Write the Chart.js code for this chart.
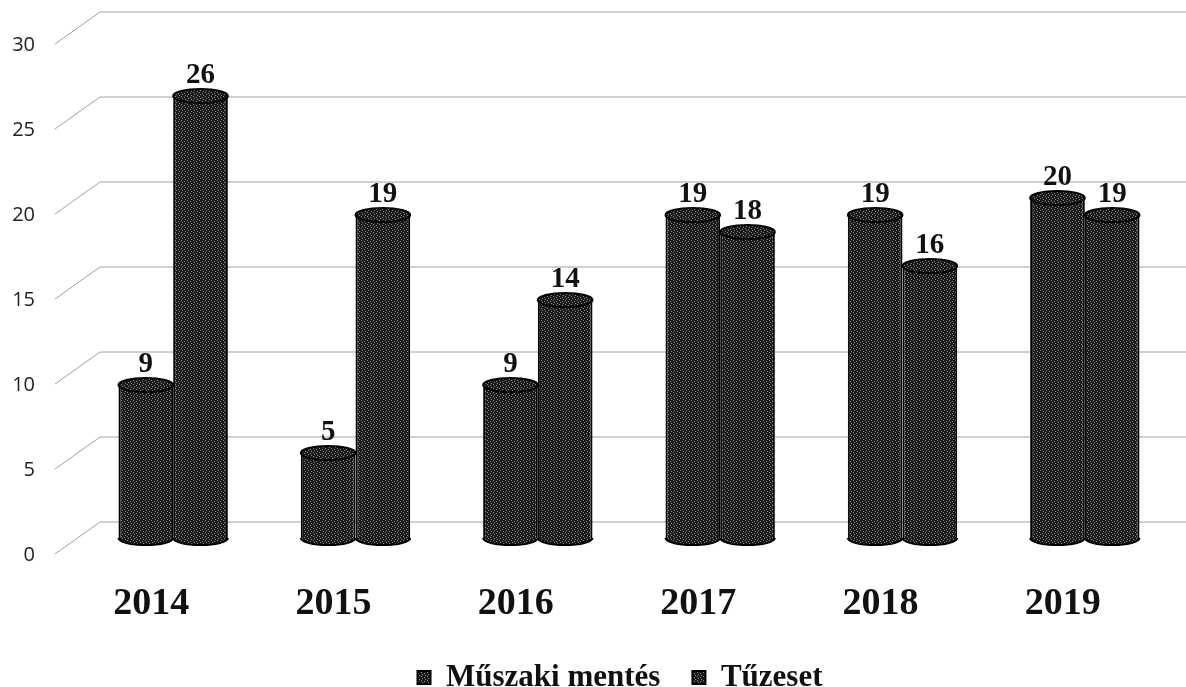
<!DOCTYPE html>
<html>
<head>
<meta charset="utf-8">
<script src="https://cdn.jsdelivr.net/npm/chart.js@4"></script>
<style>
  html, body { margin: 0; padding: 0; background: #fff; }
  #wrap { width: 1186px; height: 687px; }
</style>
</head>
<body>
<div id="wrap"><canvas id="chart" width="1186" height="687"></canvas></div>
<script>
const years = ['2014', '2015', '2016', '2017', '2018', '2019'];
const muszaki = [9, 5, 9, 19, 19, 20];
const tuzeset = [26, 19, 14, 18, 16, 19];
const seriesNames = ['Műszaki mentés', 'Tűzeset'];
const yTicks = [0, 5, 10, 15, 20, 25, 30];

const serif = "'Liberation Serif', 'Times New Roman', serif";

// scanned look: dark fill with a few light specks
function makeFill() {
  const c = document.createElement('canvas');
  c.width = 6; c.height = 4;
  const g = c.getContext('2d');
  g.fillStyle = '#1a1a1a';
  g.fillRect(0, 0, 6, 4);
  g.fillStyle = '#8a8a8a';
  [[1, 0], [4, 1], [2, 2], [5, 3]].forEach(p => g.fillRect(p[0], p[1], 1, 1));
  return g.createPattern(c, 'repeat');
}
const barFill = makeFill();

// back wall: grid lines pushed up + diagonal down to the front labels
const wallPlugin = {
  id: 'wall',
  afterLayout(chart) {
    // legend sits lower and a bit right in the original
    chart.legend.top += 16; chart.legend.bottom += 16;
    chart.legend.left += 32; chart.legend.right += 32;
  },
  beforeDatasetsDraw(chart) {
    const ctx = chart.ctx;
    const y = chart.scales.y;
    ctx.save();
    ctx.strokeStyle = '#a0a0a0';
    ctx.lineWidth = 1;
    yTicks.forEach(v => {
      const p = y.getPixelForValue(v);
      ctx.beginPath();
      ctx.moveTo(55, p + 16);
      ctx.lineTo(100, p - 16);
      ctx.lineTo(chart.width, p - 16);
      ctx.stroke();
    });
    ctx.restore();
  }
};

// cylinder caps + value labels
const cylPlugin = {
  id: 'cyl',
  afterDatasetDraw(chart, args) {
    const ctx = chart.ctx;
    ctx.save();
    args.meta.data.forEach(bar => {
      const w = bar.width / 2;
      ctx.fillStyle = barFill;
      ctx.strokeStyle = '#000';
      ctx.lineWidth = 2;
      ctx.beginPath();
      ctx.ellipse(bar.x, bar.base, w, 7, 0, 0, Math.PI);
      ctx.fill();
      ctx.stroke();
      ctx.beginPath();
      ctx.ellipse(bar.x, bar.y, w, 7, 0, 0, Math.PI * 2);
      ctx.fill();
      ctx.stroke();
    });
    ctx.restore();
  },
  afterDatasetsDraw(chart) {
    const ctx = chart.ctx;
    ctx.save();
    ctx.fillStyle = '#111';
    ctx.font = 'bold 29px ' + serif;
    ctx.textAlign = 'center';
    ctx.textBaseline = 'alphabetic';
    chart.data.datasets.forEach((ds, i) => {
      chart.getDatasetMeta(i).data.forEach((bar, j) => {
        ctx.fillText(ds.data[j], bar.x, bar.y - 13);
      });
    });
    ctx.restore();
  }
};

new Chart(document.getElementById('chart'), {
  type: 'bar',
  data: {
    labels: years,
    datasets: [
      { label: seriesNames[0], data: muszaki, backgroundColor: barFill, borderColor: '#000', borderWidth: 2 },
      { label: seriesNames[1], data: tuzeset, backgroundColor: barFill, borderColor: '#000', borderWidth: 2 }
    ]
  },
  options: {
    responsive: false,
    animation: false,
    categoryPercentage: 0.6,
    barPercentage: 1.0,
    layout: { padding: { top: 28, right: 10, left: 0, bottom: 0 } },
    plugins: {
      tooltip: { enabled: false },
      legend: {
        position: 'bottom',
        labels: {
          color: '#111',
          font: { family: serif, size: 31, weight: 'bold' },
          boxWidth: 13,
          boxHeight: 13,
          padding: 32
        }
      }
    },
    scales: {
      x: {
        afterFit(scale) { scale.height = 76; },
        grid: { display: false, drawTicks: false },
        border: { display: false },
        ticks: {
          color: '#111',
          labelOffset: -22,
          padding: 43,
          font: { family: serif, size: 38, weight: 'bold' }
        }
      },
      y: {
        min: 0,
        max: 30,
        afterFit(scale) {
          scale.width = 82;
          scale.paddingTop = 0;
          scale.paddingBottom = 0;
        },
        grid: { display: false, drawTicks: false },
        border: { display: false },
        ticks: {
          stepSize: 5,
          color: '#222',
          labelOffset: 17,
          padding: 47,
          font: { family: "'Open Sans', 'DejaVu Sans', sans-serif", size: 20 }
        }
      }
    }
  },
  plugins: [wallPlugin, cylPlugin]
});
</script>
</body>
</html>
